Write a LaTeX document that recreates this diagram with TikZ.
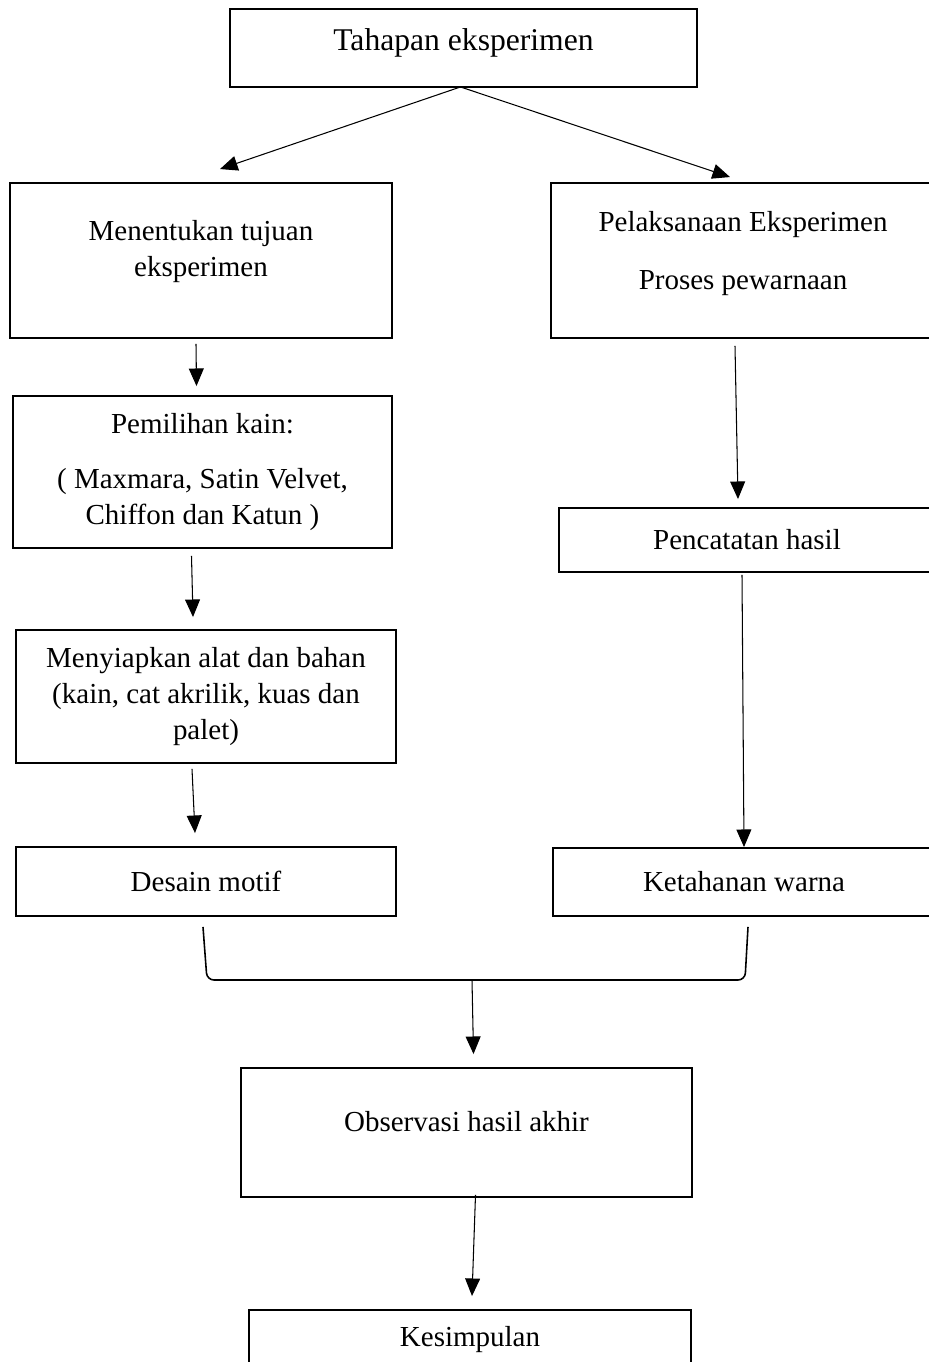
\documentclass[tikz,border=0pt]{standalone}
\usepackage{fontspec}
\setmainfont{Liberation Serif}
\usetikzlibrary{arrows.meta,calc}

\tikzset{
  kotak/.style={draw, line width=1.1pt, align=center, inner sep=0pt,
    font=\fontsize{16.5}{20.5}\selectfont},
  panah/.style={line width=0.6pt, -{Triangle[width=8.5pt,length=10pt]}}
}

\begin{document}
\begin{tikzpicture}[x=0.02cm,y=-0.02cm]
\useasboundingbox (0,0) rectangle (929,1362);
\clip (0,0) rectangle (929,1362);

% kotak
\node[kotak, minimum width=9.34cm, minimum height=1.56cm, text depth=9.5pt, font=\fontsize{18}{21}\selectfont] (tahap) at (463.5,48) {Tahapan eksperimen};
\node[kotak, minimum width=7.64cm, minimum height=3.1cm, text depth=13.5pt] (tujuan) at (201,260.5) {Menentukan tujuan\\eksperimen};
\node[kotak, minimum width=7.68cm, minimum height=3.1cm, text depth=11.6pt] (laksana) at (743,260.5) {Pelaksanaan Eksperimen\\[12.4pt]Proses pewarnaan};
\node[kotak, minimum width=7.58cm, minimum height=3.04cm] (kain) at (202.5,472) {Pemilihan kain:\\[11.2pt]( Maxmara, Satin Velvet,\\Chiffon dan Katun )};
\node[kotak, minimum width=7.6cm, minimum height=2.66cm] (alat) at (206,696.5) {Menyiapkan alat dan bahan\\(kain, cat akrilik, kuas dan\\palet)};
\node[kotak, minimum width=7.6cm, minimum height=1.38cm] (desain) at (206,881.5) {Desain motif};
\node[kotak, minimum width=7.52cm, minimum height=1.28cm] (catat) at (747,540) {Pencatatan hasil};
\node[kotak, minimum width=7.64cm, minimum height=1.36cm] (tahan) at (744,882) {Ketahanan warna};
\node[kotak, minimum width=9.02cm, minimum height=2.58cm, text depth=12.4pt] (observasi) at (466.5,1132.5) {Observasi hasil akhir};
\node[kotak, minimum width=8.86cm, minimum height=1.2cm] (simpul) at (470,1340) {Kesimpulan};

% panah
\draw[panah] ($(tahap.south)+(-3,-1)$) -- ($(tujuan.north)+(19,-13)$);
\draw[panah] ($(tahap.south)+(-3,-1)$) -- ($(laksana.north)+(-13,-5)$);
\draw[panah] ($(tujuan.south)+(-5,5)$) -- ($(kain.north)+(-6,-9)$);
\draw[panah] ($(kain.south)+(-11,7)$) -- ($(alat.north)+(-13,-12)$);
\draw[panah] ($(alat.south)+(-14,5)$) -- ($(desain.north)+(-11,-13)$);
\draw[panah] ($(laksana.south)+(-8,7)$) -- ($(catat.north)+(-9,-8)$);
\draw[panah] ($(catat.south)+(-5,2)$) -- (tahan.north);

% kurung gabungan
\coordinate (gabung) at (472,980);
\draw[line width=0.9pt, rounded corners=4] ($(desain.south)+(-3,10)$) -- (207,980) -- (745,980) -- ($(tahan.south)+(4,10)$);
\draw[panah] (gabung) -- ($(observasi.north)+(7,-13)$);
\draw[panah] ($(observasi.south)+(9,-3)$) -- ($(simpul.north)+(2,-13)$);
\end{tikzpicture}
\end{document}
